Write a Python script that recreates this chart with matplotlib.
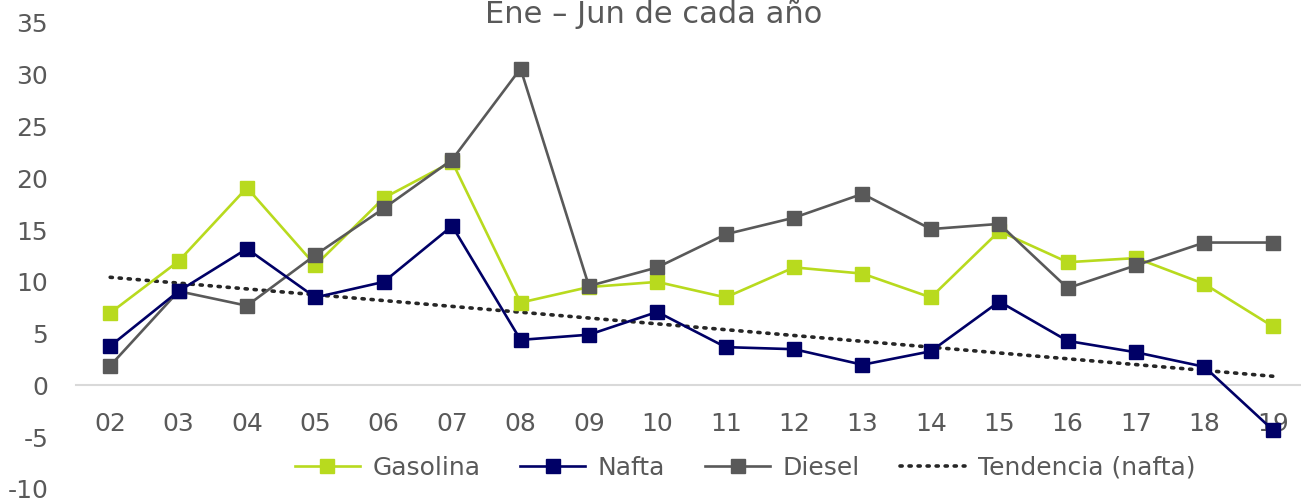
import numpy as np
import matplotlib
matplotlib.use("Agg")
import matplotlib.pyplot as plt

# anos (ene-jun de cada ano)
years = ["02", "03", "04", "05", "06", "07", "08", "09", "10",
         "11", "12", "13", "14", "15", "16", "17", "18", "19"]

gasolina = [7.0, 12.0, 19.1, 11.6, 18.1, 21.6, 8.0, 9.5, 10.0,
            8.5, 11.4, 10.8, 8.5, 14.9, 11.9, 12.3, 9.8, 5.7]
nafta = [3.8, 9.1, 13.2, 8.5, 10.0, 15.4, 4.4, 4.9, 7.1,
         3.7, 3.5, 2.0, 3.3, 8.1, 4.3, 3.2, 1.8, -4.3]
diesel = [1.9, 9.1, 7.7, 12.6, 17.1, 21.8, 30.6, 9.6, 11.4,
          14.6, 16.2, 18.5, 15.1, 15.6, 9.4, 11.6, 13.8, 13.8]

yticks = [-10, -5, 0, 5, 10, 15, 20, 25, 30, 35]

TXT = "#595959"
plt.rcParams["font.family"] = ["DejaVu Sans"]

fig = plt.figure(figsize=(13.01, 4.99), dpi=100)
W, H = 1301.0, 499.0
ax = fig.add_axes([76 / W, 1 - 489 / H, (1307 - 76) / W, (489 - 23) / H])

x = np.arange(len(years))

# tendencia lineal de nafta, como la de Excel
coef = np.polyfit(x, nafta, 1)
trend = np.polyval(coef, x)

ax.plot(x, gasolina, color="#B8DA1E", lw=1.9, marker="s", ms=9.5,
        label="Gasolina", zorder=3)
ax.plot(x, nafta, color="#000066", lw=1.9, marker="s", ms=9.5,
        label="Nafta", zorder=4)
ax.plot(x, diesel, color="#595959", lw=1.9, marker="s", ms=9.5,
        label="Diesel", zorder=3)
ax.plot(x, trend, color="#262626", lw=2.6, ls=(0, (0.6, 1.9)),
        dash_capstyle="round", label="Tendencia (nafta)", zorder=2)

ax.set_xlim(-0.5, len(years) - 0.5)
ax.set_ylim(-10, 35)
ax.set_yticks(yticks)
ax.set_yticklabels([str(v) for v in yticks])
ax.set_xticks(x)
ax.set_xticklabels(years)

for s in ["top", "right", "left"]:
    ax.spines[s].set_visible(False)
ax.spines["bottom"].set_position(("data", 0))
ax.spines["bottom"].set_color("#D9D9D9")
ax.spines["bottom"].set_linewidth(1.5)
ax.spines["bottom"].set_zorder(1)

ax.tick_params(axis="y", length=0, pad=20, labelsize=18, labelcolor=TXT)
ax.tick_params(axis="x", length=0, pad=19, labelsize=18, labelcolor=TXT)

fig.text(654 / W, 1 - 23 / H, "Ene \u2013 Jun de cada año", ha="center",
         va="baseline", fontsize=22, color=TXT)

leg = fig.legend(loc="center", bbox_to_anchor=(745 / W, 1 - 468 / H),
                 ncol=4, frameon=False, fontsize=18, handlelength=2.6,
                 columnspacing=1.6, handletextpad=0.5)
for t in leg.get_texts():
    t.set_color(TXT)

fig.savefig("out.png", dpi=100)
